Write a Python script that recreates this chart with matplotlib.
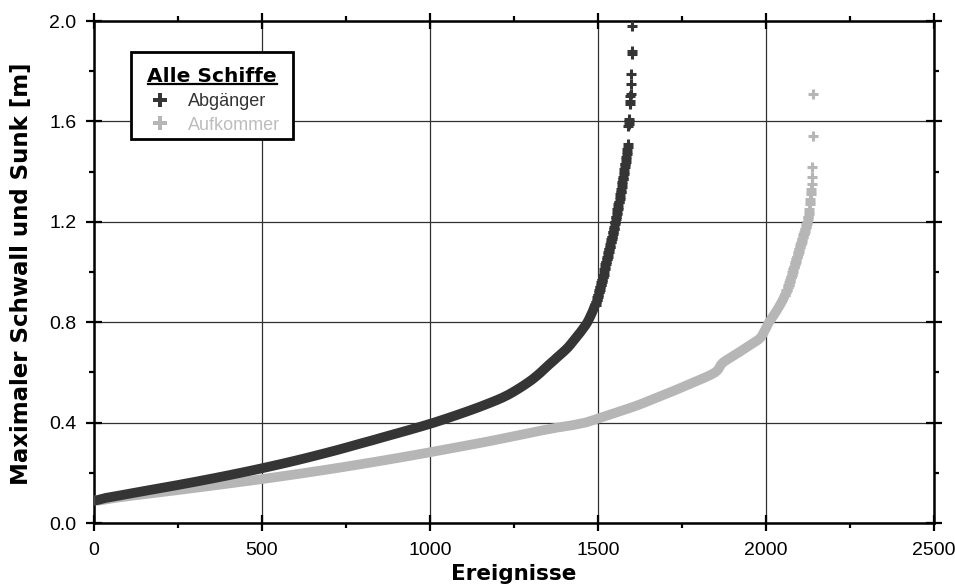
import numpy as np
import matplotlib.pyplot as plt
from matplotlib.patches import Rectangle

# Schwall/Sunk-Werte sind auf 1 cm gerundet -> Anzahl Ereignisse je cm-Stufe,
# aufsteigend sortiert, plus die vereinzelten Extremwerte am oberen Ende.
ABG_START = 0.09
abg_counts = [
    12,                                        # 0.09
    45, 40, 42, 41, 43, 41, 40, 39, 38, 37,    # 0.10 - 0.19
    36, 35, 34, 33, 32, 31, 30, 29, 29, 28,    # 0.20 - 0.29
    27, 26, 28, 27, 25, 28, 26, 27, 25, 26,    # 0.30 - 0.39
    23, 23, 22, 22, 21, 21, 20, 19, 19, 18,    # 0.40 - 0.49
    16, 14, 13, 12, 12, 11, 11, 10, 9, 9,      # 0.50 - 0.59
    8, 8, 8, 8, 9, 8, 8, 9, 8, 8,              # 0.60 - 0.69
    7, 6, 6, 6, 6, 6, 6, 5, 6, 5,              # 0.70 - 0.79
    4, 4, 3, 4, 3, 3, 3, 3, 2, 2,              # 0.80 - 0.89
    2, 2, 2, 2, 2, 2, 2, 2, 2, 2,              # 0.90 - 0.99
    1, 2, 1, 2, 2, 2, 2, 1, 2, 2,              # 1.00 - 1.09
    2, 1, 2, 2, 2, 1, 2, 2, 1, 1,              # 1.10 - 1.19
    2, 1, 2, 1, 1, 2, 1, 1, 2, 1,              # 1.20 - 1.29
    1, 1, 2, 1, 1, 1, 1, 2, 1, 1,              # 1.30 - 1.39
    1, 1, 1, 2, 1, 1, 1, 1, 1, 1,              # 1.40 - 1.49
    1, 1,                                      # 1.50 - 1.51
]
abg_tail = [1.58, 1.59, 1.60, 1.61, 1.67, 1.68, 1.70, 1.71, 1.75, 1.79,
            1.87, 1.88, 1.98]

AUF_START = 0.09
auf_counts = [
    35,                                        # 0.09
    55, 60, 62, 60, 58, 57, 57, 56, 53, 52,    # 0.10 - 0.19
    50, 49, 47, 46, 45, 44, 43, 42, 41, 41,    # 0.20 - 0.29
    40, 40, 40, 37, 36, 37, 36, 36, 45, 50,    # 0.30 - 0.39
    24, 23, 23, 22, 23, 22, 23, 19, 19, 18,    # 0.40 - 0.49
    19, 18, 19, 18, 17, 18, 17, 18, 17, 15,    # 0.50 - 0.59
    12, 5, 4, 4, 10, 12, 12, 12, 12, 11,       # 0.60 - 0.69
    12, 11, 12, 11, 5, 4, 4, 4, 4, 3,          # 0.70 - 0.79
    5, 5, 5, 5, 5, 4, 5, 4, 4, 4,              # 0.80 - 0.89
    3, 3, 2, 3, 2, 3, 2, 2, 3, 2,              # 0.90 - 0.99
    2, 2, 3, 2, 2, 2, 3, 2, 2, 2,              # 1.00 - 1.09
    2, 3, 2, 2, 2, 3, 2, 2, 2, 2,              # 1.10 - 1.19
    2, 1, 2, 1, 1, 1, 0, 1, 1, 1,              # 1.20 - 1.29
    0, 1, 1, 1,                                # 1.30 - 1.33
]
auf_tail = [1.35, 1.38, 1.42, 1.54, 1.71]

COL_ABG = "#353535"
COL_AUF = "#b6b6b6"

TICK_FONT = "Liberation Sans"
LABEL_FONT = "DejaVu Sans"


def sorted_values(start, counts, tail):
    """Sortierte Einzelwerte aus den Stufen-Haeufigkeiten aufbauen."""
    levels = np.round(start + 0.01 * np.arange(len(counts)), 2)
    return np.concatenate([np.repeat(levels, counts), np.asarray(tail)])


def draw_series(ax, start, counts, tail, color, z):
    counts = np.asarray(counts)
    vals = sorted_values(start, counts, tail)
    ranks = np.arange(1, len(vals) + 1)

    # dicht belegte Stufen (>= 3 Ereignisse) als geschlossenes Band
    n_dense = int(np.argmax(counts < 3))
    lev = np.round(start + 0.01 * np.arange(n_dense), 2)
    first = np.concatenate([[0], np.cumsum(counts)[:-1]])[:n_dense]
    mid = first + (counts[:n_dense] + 1) / 2.0
    ax.plot(np.concatenate([[1], mid]), np.concatenate([[lev[0]], lev]),
            color=color, lw=7, solid_capstyle="butt",
            solid_joinstyle="round", zorder=z)

    # Rest einzeln als Kreuze
    k = int(counts[:n_dense].sum())
    ax.plot(ranks[k - 2:], vals[k - 2:], ls="none", marker="+", ms=7,
            mew=2.2, color=color, zorder=z)


fig = plt.figure(figsize=(9.55, 5.86), dpi=100)
ax = fig.add_axes([94 / 955, 63 / 586, 840 / 955, 502 / 586])

# Aufkommer zuerst, damit die Abgaenger im Anfangsbereich oben liegen
draw_series(ax, AUF_START, auf_counts, auf_tail, COL_AUF, 3)
draw_series(ax, ABG_START, abg_counts, abg_tail, COL_ABG, 4)

ax.set_xlim(0, 2500)
ax.set_ylim(0, 2.0)
ax.set_xticks(np.arange(0, 2501, 500))
ax.set_xticks(np.arange(250, 2500, 500), minor=True)
ax.set_yticks(np.arange(0, 2.01, 0.4))
ax.set_yticks(np.arange(0.2, 2.0, 0.4), minor=True)
ax.set_xticklabels([f"{v:d}" for v in range(0, 2501, 500)])
ax.set_yticklabels([f"{v:.1f}" for v in np.arange(0, 2.01, 0.4)])

ax.grid(True, which="major", color="#303030", lw=0.9)
ax.set_axisbelow(True)

ax.tick_params(which="major", direction="inout", length=11.5, width=1.6,
               top=True, right=True, labelsize=14)
ax.tick_params(which="minor", direction="out", length=3.5, width=1.6,
               top=True, right=True)
ax.tick_params(axis="x", which="major", pad=8)
ax.tick_params(axis="y", which="major", pad=7)
for lab in ax.get_xticklabels() + ax.get_yticklabels():
    lab.set_fontfamily(TICK_FONT)

for sp in ax.spines.values():
    sp.set_linewidth(1.8)

fig.text(514 / 955, 6 / 586, "Ereignisse", ha="center", va="baseline",
         fontsize=15.5, fontweight="bold", family=LABEL_FONT)
fig.text(22 / 955, (586 - 274) / 586, "Maximaler Schwall und Sunk [m]",
         ha="center", va="center", rotation=90, fontsize=16.5,
         fontweight="bold", family=LABEL_FONT)

# ----- Legende von Hand -----
ax.add_patch(Rectangle((0.044, 0.765), 0.193, 0.173, transform=ax.transAxes,
                       facecolor="white", edgecolor="black", lw=2, zorder=6))
ax.text(0.1405, 0.879, "Alle Schiffe", transform=ax.transAxes, ha="center",
        va="baseline", fontsize=14.5, fontweight="bold", family=LABEL_FONT,
        zorder=7)
ax.plot([0.0639, 0.2182], [0.8739, 0.8739], transform=ax.transAxes,
        color="black", lw=1.6, zorder=7, clip_on=False)

legend_rows = [("Abgänger", COL_ABG, "#333333", 0.8426, 0.8313),
               ("Aufkommer", COL_AUF, "#bdbdbd", 0.7962, 0.7829)]
for name, mcol, tcol, ym, yt in legend_rows:
    ax.plot([0.0782], [ym], transform=ax.transAxes, marker="P", ms=10,
            mew=0, color=mcol, zorder=7, clip_on=False)
    ax.text(0.1115, yt, name, transform=ax.transAxes, ha="left",
            va="baseline", fontsize=13, color=tcol, family=TICK_FONT, zorder=7)

fig.savefig("out.png", dpi=100)
